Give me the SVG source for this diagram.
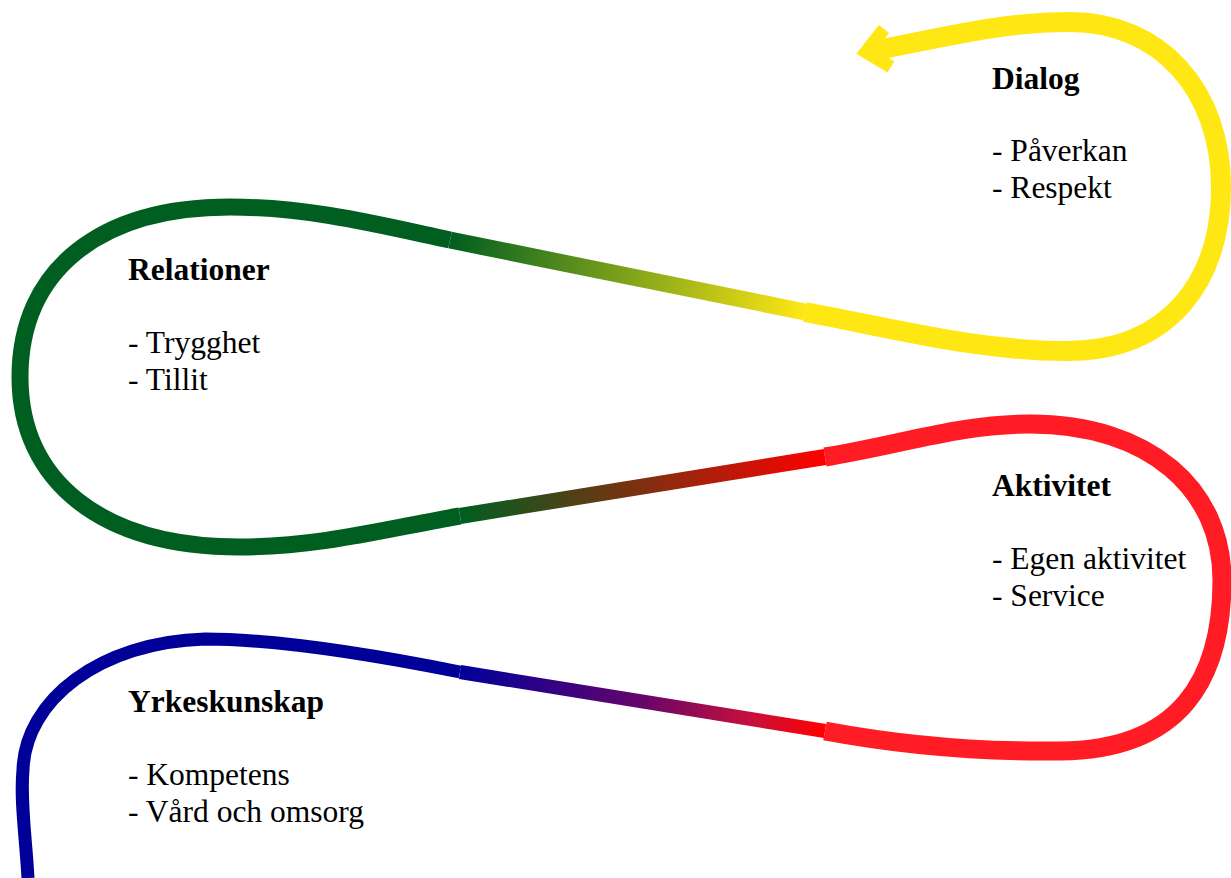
<svg xmlns="http://www.w3.org/2000/svg" width="1231" height="878" viewBox="0 0 1231 878">
<style>
.s{fill:none;stroke-linecap:butt;stroke-linejoin:round}
.h{font-family:"Liberation Serif","Times New Roman",serif;font-size:31.5px;font-weight:bold;fill:#000}
.t{font-family:"Liberation Serif","Times New Roman",serif;font-size:31.5px;fill:#000}
</style>
<defs>
<linearGradient id="gBR" gradientUnits="userSpaceOnUse" x1="460" y1="672" x2="825" y2="731">
<stop offset="0" stop-color="#000099"/>
<stop offset="0.5" stop-color="#66056A"/>
<stop offset="0.8" stop-color="#C8103C"/>
<stop offset="1" stop-color="#FF0000"/>
</linearGradient>
<linearGradient id="gRG" gradientUnits="userSpaceOnUse" x1="825" y1="457" x2="460" y2="516">
<stop offset="0" stop-color="#FF0000"/>
<stop offset="1" stop-color="#005E20"/>
</linearGradient>
<linearGradient id="gGY" gradientUnits="userSpaceOnUse" x1="450" y1="240" x2="805" y2="312">
<stop offset="0" stop-color="#005E20"/>
<stop offset="1" stop-color="#FFE714"/>
</linearGradient>
</defs>
<rect width="1231" height="878" fill="#fff"/>
<g id="connectors">
<path class="s" stroke="#000099" stroke-width="13" d="M 28 878 C 26 840 20 800 23 770 C 25 700 100 642 205 639 C 290 639 400 660 460 672"/>
<path class="s" stroke="url(#gBR)" stroke-width="14" d="M 460 672 L 825 731"/>
<path class="s" stroke="#FF1C25" stroke-width="19" d="M 825 731 C 900 745 980 752 1060 751 C 1180 750 1222 680 1222 580 C 1222 490 1150 424 1030 424 C 960 424 900 445 825 457"/>
<path class="s" stroke="url(#gRG)" stroke-width="16" d="M 825 457 L 460 516"/>
<path class="s" stroke="#005E20" stroke-width="17" d="M 460 516 C 390 528 320 547 240 547 C 100 547 20 480 20 377 C 20 270 100 207 230 207 C 310 207 380 225 450 240"/>
<path class="s" stroke="url(#gGY)" stroke-width="17" d="M 450 240 L 805 312"/>
<path class="s" stroke="#FFE714" stroke-width="20" d="M 805 312 C 900 330 980 351 1067 351 C 1170 351 1221 280 1221 187 C 1221 90 1160 22 1070 22 C 1000 22 940 38 868 52"/>
<polyline fill="none" stroke="#FFE714" stroke-width="13" stroke-linejoin="miter" stroke-miterlimit="10" points="884,29 866,52 891,67"/>
</g>
<g id="dialog">
<text class="h" x="992" y="89">Dialog</text>
<text class="t" x="992" y="161">- Påverkan</text>
<text class="t" x="992" y="198">- Respekt</text>
</g>
<g id="relationer">
<text class="h" x="128" y="280">Relationer</text>
<text class="t" x="128" y="353">- Trygghet</text>
<text class="t" x="128" y="390">- Tillit</text>
</g>
<g id="aktivitet">
<text class="h" x="992" y="496">Aktivitet</text>
<text class="t" x="992" y="569">- Egen aktivitet</text>
<text class="t" x="992" y="606">- Service</text>
</g>
<g id="yrkeskunskap">
<text class="h" x="128" y="712">Yrkeskunskap</text>
<text class="t" x="128" y="785">- Kompetens</text>
<text class="t" x="128" y="822">- Vård och omsorg</text>
</g>
</svg>
